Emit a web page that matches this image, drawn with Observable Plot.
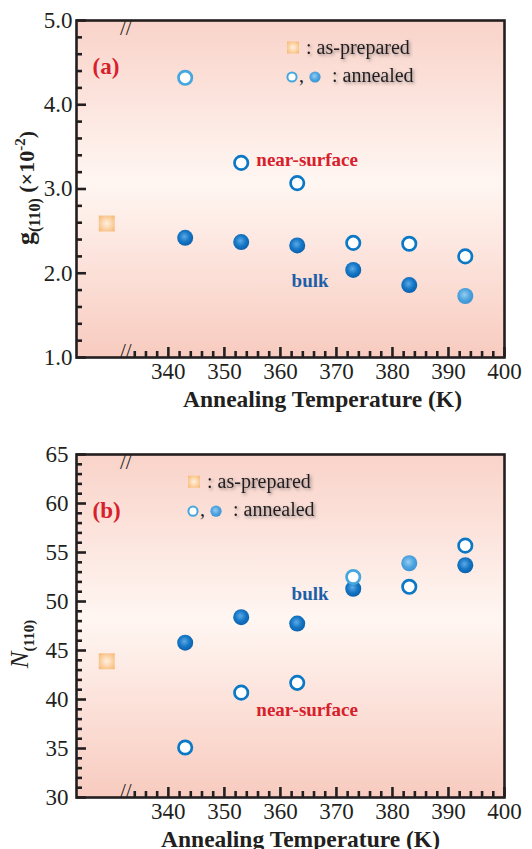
<!DOCTYPE html>
<html><head><meta charset="utf-8">
<script src="https://cdn.jsdelivr.net/npm/d3@7"></script>
<script src="https://cdn.jsdelivr.net/npm/@observablehq/plot@0.6"></script>
<style>
body{margin:0;background:#fff;}
#wrap{position:relative;width:532px;height:849px;overflow:hidden;background:#fff;}
#wrap > svg{position:absolute;}
</style></head><body><div id="wrap"></div>
<script>
// ---------- data ----------
const annealT = [343, 353, 363, 373, 383, 393];
const asPreparedT = [329];              // placed on the broken part of the axis
const gNearSurface = [4.32, 3.31, 3.07, 2.36, 2.35, 2.20];
const gBulk = [2.42, 2.37, 2.33, 2.04, 1.86, 1.73];
const gAsPrepared = [2.59];
const nNearSurface = [35.1, 40.7, 41.7, 52.5, 51.5, 55.7];
const nBulk = [45.8, 48.4, 47.75, 51.3, 53.9, 53.7];
const nAsPrepared = [43.9];
// marker tone per point ("light" = paler blue marker)
const gSurfaceTone = ["light", "dark", "dark", "dark", "dark", "dark"];
const gBulkTone = ["dark", "dark", "dark", "dark", "dark", "light"];
const nSurfaceTone = ["dark", "dark", "dark", "light", "dark", "dark"];
const nBulkTone = ["dark", "dark", "dark", "dark", "light", "dark"];
// ticks
const xTickLabels = [340, 350, 360, 370, 380, 390, 400];
const xMinorTicks = d3.range(334, 400, 2).filter(v => v % 10 !== 0);
const gTickLabels = [1, 2, 3, 4, 5];
const gMinorTicks = d3.range(1, 5.001, 0.2).filter(v => Math.abs(v - Math.round(v)) > 1e-6);
const nTickLabels = [30, 35, 40, 45, 50, 55, 60, 65];
const nMinorTicks = d3.range(31, 65, 1).filter(v => v % 5 !== 0);
const axisBreakT = [332.4];
// annotation text
const xAxisTitle = "Annealing Temperature (K)";
const surfaceLabel = "near-surface";
const bulkLabel = "bulk";
const gSurfaceLabelAt = {x: 355.7, y: 3.34};
const gBulkLabelAt = {x: 362.0, y: 1.91};
const nSurfaceLabelAt = {x: 355.7, y: 38.9};
const nBulkLabelAt = {x: 362.0, y: 50.8};
const legendAsPrepared = ": as-prepared";
const legendAnnealed = ": annealed";

// ---------- helpers ----------
const INK = "#231f20";
const RED = "#d7202c";
const BLUE_TXT = "#1c5fa8";
const W = 532, ML = 76, MR = 28, MT = 20;
const frameW = W - ML - MR;

function addDefs(svg, id) {
  const defs = d3.select(svg).insert("defs", ":first-child");
  const bg = defs.append("linearGradient").attr("id", "bg" + id).attr("x1", 0).attr("y1", 0).attr("x2", 0).attr("y2", 1);
  [["0%", "#f9d3c9"], ["48%", "#fff6f2"], ["100%", "#f8cbbf"]].forEach(([o, c]) => bg.append("stop").attr("offset", o).attr("stop-color", c));
  const bd = defs.append("radialGradient").attr("id", "ballDark" + id).attr("cx", "45%").attr("cy", "42%").attr("r", "60%");
  [["0%", "#5ea9e6"], ["55%", "#1577c6"], ["100%", "#0a5ea9"]].forEach(([o, c]) => bd.append("stop").attr("offset", o).attr("stop-color", c));
  const bl = defs.append("radialGradient").attr("id", "ballLight" + id).attr("cx", "45%").attr("cy", "42%").attr("r", "60%");
  [["0%", "#96cdf2"], ["60%", "#4ba2de"], ["100%", "#3a92d2"]].forEach(([o, c]) => bl.append("stop").attr("offset", o).attr("stop-color", c));
  const sq = defs.append("radialGradient").attr("id", "sq" + id).attr("cx", "50%").attr("cy", "50%").attr("r", "70%");
  [["0%", "#fff0e0"], ["45%", "#fcd6ac"], ["100%", "#f6b46c"]].forEach(([o, c]) => sq.append("stop").attr("offset", o).attr("stop-color", c));
  const sh = defs.append("filter").attr("id", "shadow" + id).attr("x", "-20%").attr("y", "-40%").attr("width", "140%").attr("height", "180%");
  sh.append("feDropShadow").attr("dx", 1.5).attr("dy", 1.5).attr("stdDeviation", 1.6).attr("flood-color", "#444").attr("flood-opacity", 0.55);
}

function panel(cfg) {
  const frameH = cfg.height - MT - cfg.marginBottom;
  const surface = annealT.map((t, i) => ({t, v: cfg.surface[i], tone: cfg.surfaceTone[i]}));
  const bulk = annealT.map((t, i) => ({t, v: cfg.bulk[i], tone: cfg.bulkTone[i]}));
  const asPrep = asPreparedT.map((t, i) => ({t, v: cfg.asPrep[i]}));
  const id = cfg.id;
  const svg = Plot.plot({
    width: W, height: cfg.height,
    marginLeft: ML, marginRight: MR, marginTop: MT, marginBottom: cfg.marginBottom,
    style: {fontFamily: "'Liberation Serif', 'DejaVu Serif', serif", fontSize: "23px", color: INK, background: "transparent", overflow: "visible"},
    x: {domain: [323.6, 400], ticks: xTickLabels, tickSize: 0, tickPadding: 5, label: null},
    y: {domain: cfg.yDomain, ticks: cfg.yTicks, tickSize: 0, tickPadding: cfg.yPad, tickFormat: cfg.yFmt, label: null},
    marks: [
      Plot.frame({fill: `url(#bg${id})`, stroke: "none"}),
      Plot.tickY(cfg.yMinor, {stroke: INK, strokeWidth: 2.6, insetRight: frameW - 6}),
      Plot.tickY(cfg.yTicks, {stroke: INK, strokeWidth: 2.6, insetRight: frameW - 10}),
      Plot.tickX(xMinorTicks, {stroke: INK, strokeWidth: 2.6, insetTop: frameH - 6}),
      Plot.tickX(xTickLabels, {stroke: INK, strokeWidth: 2.6, insetTop: frameH - 10}),
      Plot.frame({stroke: INK, strokeWidth: 2.6}),
      Plot.text(axisBreakT, {x: d => d, frameAnchor: "top", text: () => "//", fontSize: 21, fill: INK}),
      Plot.text(axisBreakT, {x: d => d, frameAnchor: "bottom", text: () => "//", fontSize: 21, fill: INK}),
      Plot.text([cfg.panelLabel], {frameAnchor: "top-left", dx: 16, dy: cfg.panelDy, text: d => d, textAnchor: "start", lineAnchor: "middle", fontSize: 23, fontWeight: "bold", fill: RED}),
      Plot.text([surfaceLabel], {x: () => cfg.surfaceAt.x, y: () => cfg.surfaceAt.y, text: d => d, textAnchor: "start", lineAnchor: "middle", fontSize: 19, fontWeight: "bold", fill: RED}),
      Plot.text([bulkLabel], {x: () => cfg.bulkAt.x, y: () => cfg.bulkAt.y, text: d => d, textAnchor: "start", lineAnchor: "middle", fontSize: 19, fontWeight: "bold", fill: BLUE_TXT}),
      Plot.dot(asPrep, {x: "t", y: "v", symbol: "square", r: 9, fill: `url(#sq${id})`, stroke: "none"}),
      Plot.dot(bulk, {filter: d => d.tone === "dark", x: "t", y: "v", r: 8, fill: `url(#ballDark${id})`, stroke: "none"}),
      Plot.dot(bulk, {filter: d => d.tone === "light", x: "t", y: "v", r: 8, fill: `url(#ballLight${id})`, stroke: "none"}),
      Plot.dot(surface, {filter: d => d.tone === "dark", x: "t", y: "v", r: 6.7, fill: "white", stroke: "#0b78c6", strokeWidth: 2.7}),
      Plot.dot(surface, {filter: d => d.tone === "light", x: "t", y: "v", r: 6.7, fill: "white", stroke: "#46a6de", strokeWidth: 2.7}),
      Plot.text([xAxisTitle], {frameAnchor: "bottom", dx: cfg.titleDx, dy: 49, text: d => d, lineAnchor: "bottom", fontSize: 23.5, fontWeight: "bold", fill: INK})
    ]
  });
  addDefs(svg, id);
  // y-axis title with sub/superscripts
  const t = d3.select(svg).append("text")
    .attr("transform", `translate(${cfg.yTitleX},${cfg.yTitleY}) rotate(-90)`)
    .attr("text-anchor", "middle").attr("fill", INK)
    .style("font-family", "'Liberation Serif', serif");
  cfg.yTitle(t);
  // legend
  const lg = d3.select(svg).append("g").attr("transform", `translate(${cfg.legendX},${cfg.legendY})`)
    .attr("text-anchor", "start").style("font-family", "'Liberation Serif', serif");
  lg.append("rect").attr("x", 0).attr("y", -6).attr("width", 12).attr("height", 12).attr("fill", `url(#sq${id})`);
  lg.append("text").attr("x", 19).attr("y", 6).text(legendAsPrepared)
    .style("font-size", "20px").attr("fill", INK).attr("filter", `url(#shadow${id})`);
  lg.append("circle").attr("cx", 5).attr("cy", 29.5).attr("r", 4.6).attr("fill", "white").attr("stroke", "#46a6de").attr("stroke-width", 2);
  lg.append("text").attr("x", 12).attr("y", 34).text(",").style("font-size", "20px").attr("fill", INK);
  lg.append("circle").attr("cx", 28).attr("cy", 29.5).attr("r", 5.6).attr("fill", `url(#ballLight${id})`);
  lg.append("text").attr("x", 45).attr("y", 34).text(legendAnnealed)
    .style("font-size", "20px").attr("fill", INK).attr("filter", `url(#shadow${id})`);
  svg.style.top = cfg.top + "px";
  svg.style.left = "0px";
  return svg;
}

const wrap = document.getElementById("wrap");

wrap.appendChild(panel({
  id: "A", top: 0, height: 412, marginBottom: 55,
  yDomain: [1, 5], yTicks: gTickLabels, yMinor: gMinorTicks, yFmt: d3.format(".1f"), yPad: 4,
  surface: gNearSurface, bulk: gBulk, asPrep: gAsPrepared,
  surfaceTone: gSurfaceTone, bulkTone: gBulkTone,
  surfaceAt: gSurfaceLabelAt, bulkAt: gBulkLabelAt,
  panelLabel: "(a)", panelDy: 46, titleDx: 32,
  yTitleX: 34, yTitleY: 188,
  yTitle: t => {
    t.append("tspan").text("g").style("font-size", "26px").style("font-weight", "bold");
    t.append("tspan").text("(110)").attr("dy", 6).style("font-size", "16px").style("font-weight", "bold");
    t.append("tspan").text(" (\u00d710").attr("dy", -6).style("font-size", "22px").style("font-weight", "bold");
    t.append("tspan").text("-2").attr("dy", -9).style("font-size", "15px").style("font-weight", "bold");
    t.append("tspan").text(")").attr("dy", 9).style("font-size", "22px").style("font-weight", "bold");
  },
  legendX: 287, legendY: 47.5
}));

wrap.appendChild(panel({
  id: "B", top: 434, height: 415, marginBottom: 52,
  yDomain: [30, 65], yTicks: nTickLabels, yMinor: nMinorTicks, yFmt: d3.format("d"), yPad: 8,
  surface: nNearSurface, bulk: nBulk, asPrep: nAsPrepared,
  surfaceTone: nSurfaceTone, bulkTone: nBulkTone,
  surfaceAt: nSurfaceLabelAt, bulkAt: nBulkLabelAt,
  panelLabel: "(b)", panelDy: 56, titleDx: 10,
  yTitleX: 28, yTitleY: 210,
  yTitle: t => {
    t.append("tspan").text("N").style("font-size", "25px").style("font-style", "italic");
    t.append("tspan").text("(110)").attr("dy", 6).style("font-size", "15px").style("font-weight", "bold");
  },
  legendX: 188, legendY: 47.7
}));
</script></body></html>
